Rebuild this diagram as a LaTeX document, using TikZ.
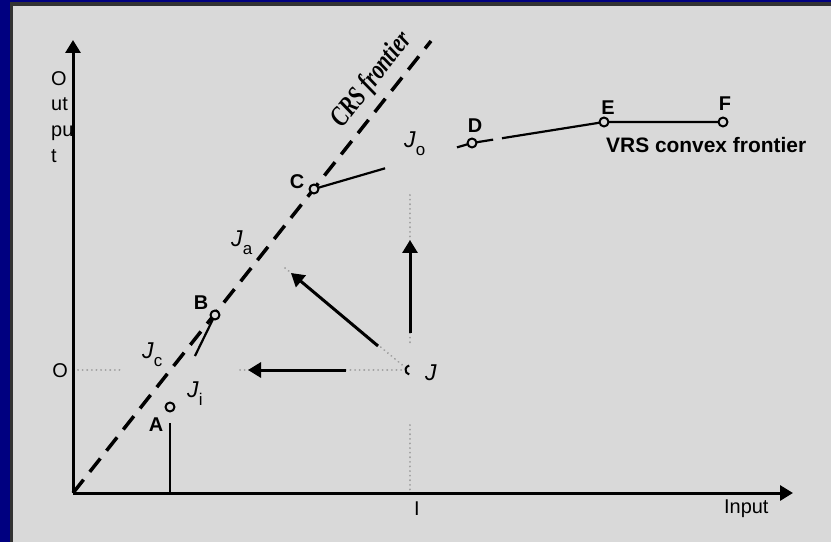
\documentclass[tikz,border=0pt]{standalone}
\usepackage{fontspec}
\setmainfont{Liberation Sans}
\newfontfamily\timesfont{Liberation Serif}
\usetikzlibrary{arrows.meta,calc}
\definecolor{slideblue}{RGB}{0,0,128}
\definecolor{rimgray}{RGB}{51,51,51}
\definecolor{slidegray}{RGB}{217,217,217}
\definecolor{dotgray}{RGB}{160,160,160}
\newcommand{\Jlab}[1]{\textit{J}\raisebox{-8bp}{\fontsize{17}{17}\selectfont #1}}
\begin{document}
\begin{tikzpicture}[x=1bp,y=-1bp,line join=round,>={Triangle[length=13bp,width=15bp]}]
	\tikzset{every node/.style={inner sep=0pt,font=\fontsize{20}{24}\selectfont},
		lab/.style={font=\fontsize{20}{24}\selectfont\bfseries,anchor=base},
		jlab/.style={font=\fontsize{23}{27}\selectfont,anchor=base west},
		vrs/.style={line width=2.2bp},
		move/.style={line width=3bp,->},
		dotline/.style={dotgray,line width=2bp,dash pattern=on 0.1bp off 4.5bp,line cap=round},
		pt/.style={circle,draw,line width=2bp,fill=slidegray,minimum size=9bp}}
	% slide
	\fill[slideblue] (0,0) rectangle (831,542);
	\fill[rimgray] (10,2) rectangle (831,542);
	\fill[slidegray] (13,6) rectangle (831,542);
	\useasboundingbox (0,0) rectangle (831,542);
	% points
	\coordinate (O) at (73,493);
	\coordinate (ytop) at (73,40);
	\coordinate (xend) at (793,493);
	\coordinate (crstop) at (431,41);
	\coordinate (A) at (170,407);
	\coordinate (B) at (215,315);
	\coordinate (C) at (314,189);
	\coordinate (D) at (472,143);
	\coordinate (E) at (604,122);
	\coordinate (F) at (723,122);
	\coordinate (J) at (410,370);
	% dotted guides
	\draw[dotline] (78,370)--(123,370);
	\draw[dotline] (240,370)--($(J)+(-5,0)$);
	\draw[dotline] (285,268)--($(J)+(-4,-2)$);
	\draw[dotline] (410,195)--(410,345);
	\draw[dotline] (410,425)--(J |- O);
	\draw[line width=2bp] (J) ++(100:4.5) arc[start angle=100,end angle=260,radius=4.5];
	% axes
	\draw[line width=3bp,->] (O)--(ytop);
	\draw[line width=3bp,->] (O)--(xend);
	% CRS frontier
	\draw[line width=3.5bp,dash pattern=on 17bp off 10bp] (O)--(crstop);
	\node[rotate=51.7,font={\timesfont\fontsize{28}{30}\selectfont\bfseries\itshape}] (crslab) at (372,80) {\scalebox{0.76}[1]{CRS frontier}};
	% VRS frontier
	\draw[vrs] ($(A)+(0,16)$)--(A |- O);
	\draw[vrs] (B)--($(B)!0.446!(A)$);
	\draw[vrs] (C)--($(C)!0.45!(D)$);
	\draw[vrs] ($(C)!0.905!(D)$)--(D)--($(D)!0.16!(E)$);
	\draw[vrs] ($(D)!0.227!(E)$)--(E)--(F);
	\foreach \p in {A,B,C,D,E,F}
	\node[pt] (pt\p) at (\p) {};
	% moves of J
	\coordinate (hTail) at (346,370);
	\coordinate (hTip) at (248,370);
	\coordinate (dTail) at (378,346);
	\coordinate (dTip) at (291,273);
	\coordinate (vTail) at (410,333);
	\coordinate (vTip) at (410,240);
	\draw[move] (hTail)--(hTip);
	\draw[move] (dTail)--(dTip);
	\draw[move] (vTail)--(vTip);
	% labels
	\foreach \p/\x/\y in {A/156/431,B/201/310,C/297/189,D/475/133,E/608/115,F/725/111}
	\node[lab] (lab\p) at (\x,\y) {\p};
	\node[anchor=base west,font=\fontsize{21}{25}\selectfont\bfseries] (vrslab) at (606,153) {VRS convex frontier};
	\node[jlab] (jo) at (404,148) {\Jlab{o}};
	\node[jlab] (ja) at (231,247) {\Jlab{a}};
	\node[jlab] (jc) at (142,358) {\Jlab{c}};
	\node[jlab] (ji) at (187,397) {\Jlab{i}};
	\node[jlab] (jj) at (425,380) {\textit{J}};
	\foreach \t/\y in {O/86,ut/111,pu/137,t/163}
	\node[anchor=base west] (ax\t) at (51,\y) {\t};
	\node[anchor=base] (olab) at (60,377) {O};
	\node[anchor=base] (ilab) at (417,515) {I};
	\node[anchor=base west] (inlab) at (724,513) {Input};
\end{tikzpicture}
\end{document}
